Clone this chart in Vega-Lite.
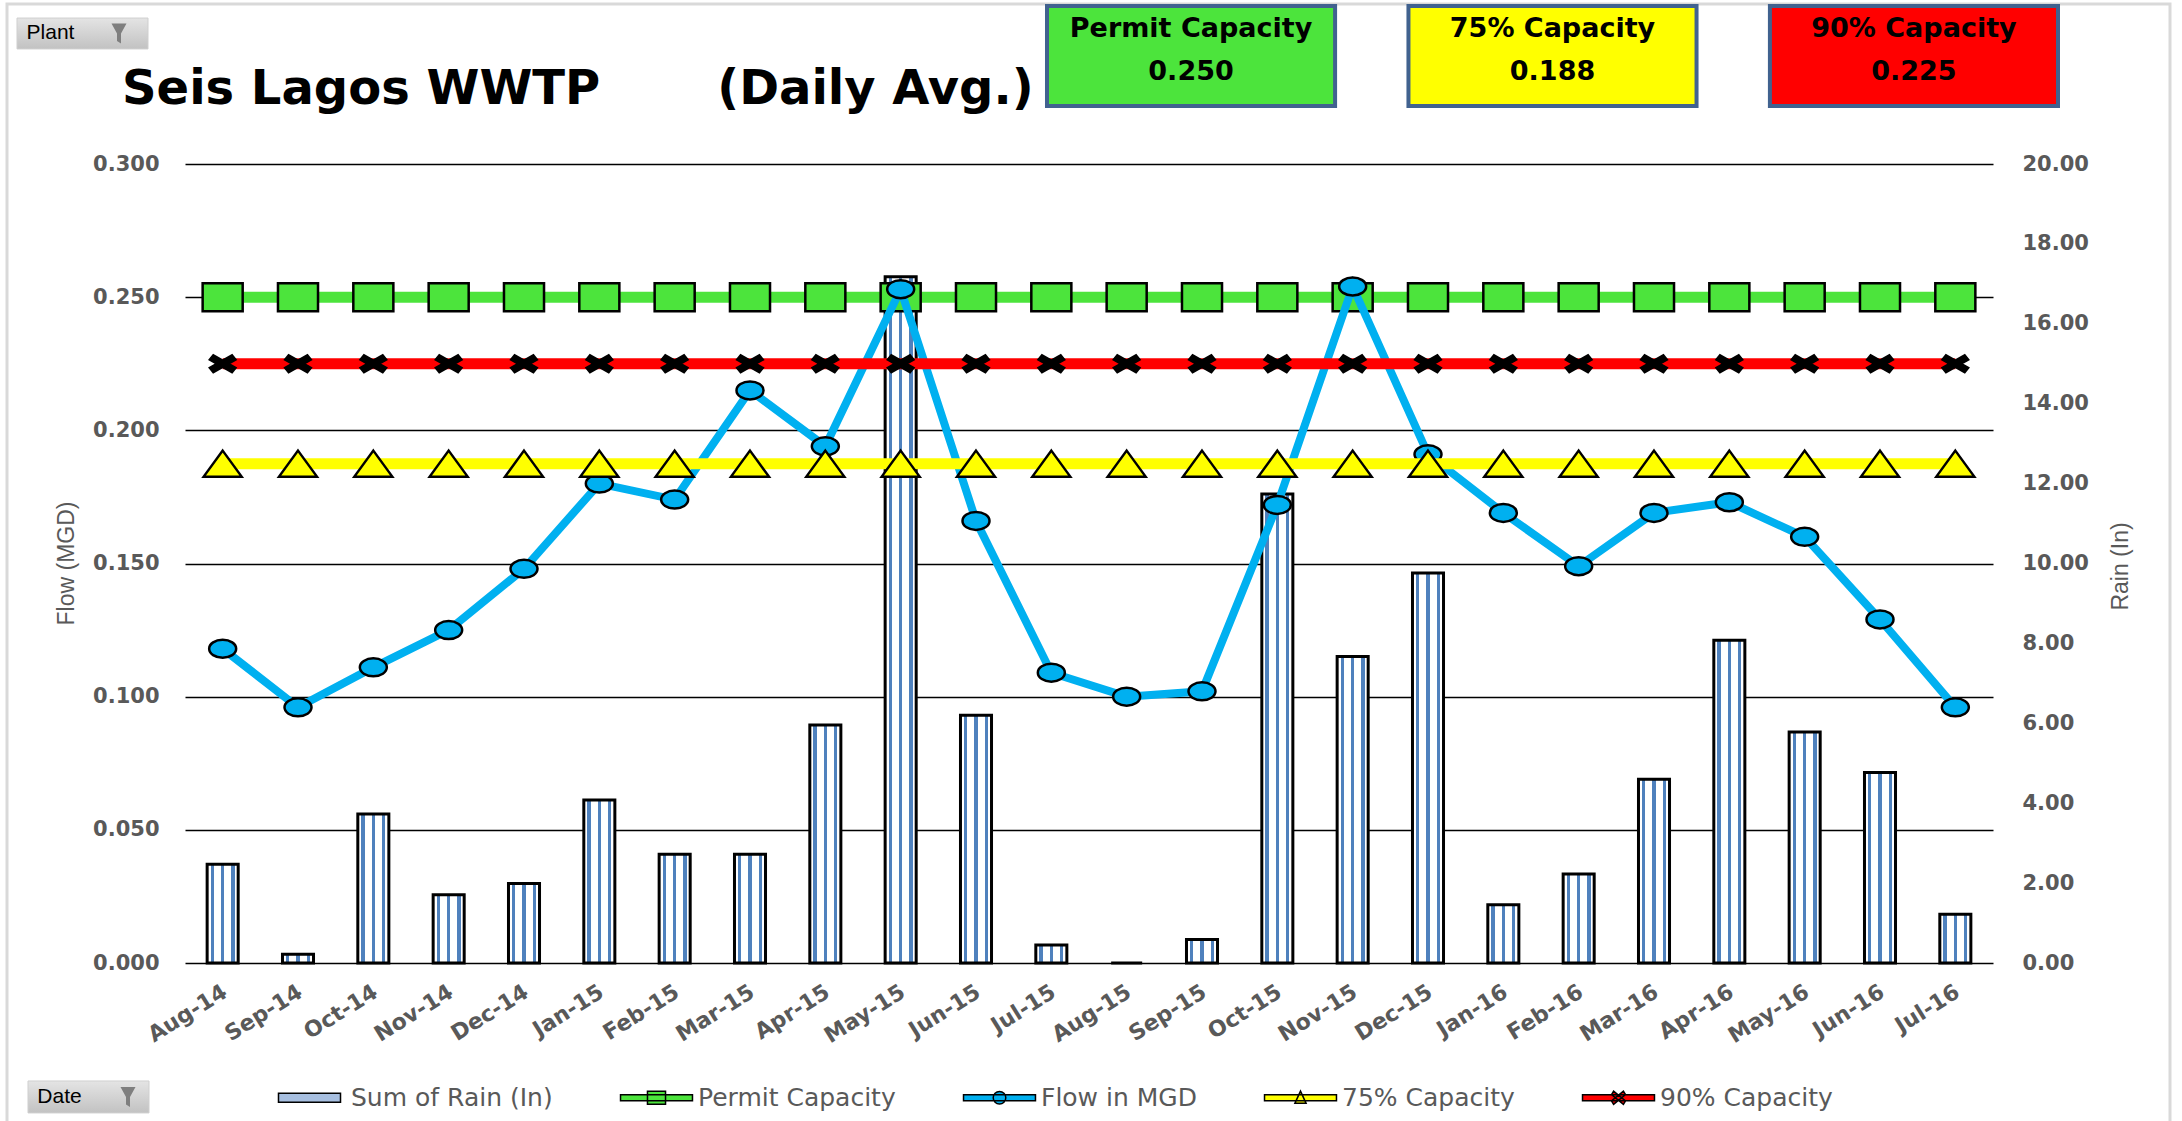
{
  "$schema": "https://vega.github.io/schema/vega-lite/v6.json",
  "width": 1808,
  "height": 799,
  "autosize": "none",
  "padding": {"left": 185, "top": 164, "right": 189, "bottom": 158},
  "background": "white",
  "config": {"view": {"stroke": null}},
  "title": {
    "text": "Seis Lagos WWTP\u00a0\u00a0\u00a0\u00a0\u00a0\u00a0\u00a0(Daily Avg.)",
    "anchor": "start",
    "frame": "group",
    "orient": "top",
    "font": "DejaVu Sans",
    "fontSize": 48,
    "fontWeight": "bold",
    "color": "#000000",
    "baseline": "alphabetic",
    "offset": 0,
    "dx": -63,
    "dy": 150
  },
  "datasets": {
    "d": [
      {"m": "Aug-14", "rain": 2.47, "Flow in MGD": 0.118, "Permit Capacity": 0.25, "75% Capacity": 0.1875, "90% Capacity": 0.225},
      {"m": "Sep-14", "rain": 0.22, "Flow in MGD": 0.096, "Permit Capacity": 0.25, "75% Capacity": 0.1875, "90% Capacity": 0.225},
      {"m": "Oct-14", "rain": 3.73, "Flow in MGD": 0.111, "Permit Capacity": 0.25, "75% Capacity": 0.1875, "90% Capacity": 0.225},
      {"m": "Nov-14", "rain": 1.71, "Flow in MGD": 0.125, "Permit Capacity": 0.25, "75% Capacity": 0.1875, "90% Capacity": 0.225},
      {"m": "Dec-14", "rain": 1.99, "Flow in MGD": 0.148, "Permit Capacity": 0.25, "75% Capacity": 0.1875, "90% Capacity": 0.225},
      {"m": "Jan-15", "rain": 4.08, "Flow in MGD": 0.180, "Permit Capacity": 0.25, "75% Capacity": 0.1875, "90% Capacity": 0.225},
      {"m": "Feb-15", "rain": 2.72, "Flow in MGD": 0.174, "Permit Capacity": 0.25, "75% Capacity": 0.1875, "90% Capacity": 0.225},
      {"m": "Mar-15", "rain": 2.72, "Flow in MGD": 0.215, "Permit Capacity": 0.25, "75% Capacity": 0.1875, "90% Capacity": 0.225},
      {"m": "Apr-15", "rain": 5.96, "Flow in MGD": 0.194, "Permit Capacity": 0.25, "75% Capacity": 0.1875, "90% Capacity": 0.225},
      {"m": "May-15", "rain": 17.18, "Flow in MGD": 0.253, "Permit Capacity": 0.25, "75% Capacity": 0.1875, "90% Capacity": 0.225},
      {"m": "Jun-15", "rain": 6.20, "Flow in MGD": 0.166, "Permit Capacity": 0.25, "75% Capacity": 0.1875, "90% Capacity": 0.225},
      {"m": "Jul-15", "rain": 0.45, "Flow in MGD": 0.109, "Permit Capacity": 0.25, "75% Capacity": 0.1875, "90% Capacity": 0.225},
      {"m": "Aug-15", "rain": 0, "Flow in MGD": 0.100, "Permit Capacity": 0.25, "75% Capacity": 0.1875, "90% Capacity": 0.225},
      {"m": "Sep-15", "rain": 0.59, "Flow in MGD": 0.102, "Permit Capacity": 0.25, "75% Capacity": 0.1875, "90% Capacity": 0.225},
      {"m": "Oct-15", "rain": 11.74, "Flow in MGD": 0.172, "Permit Capacity": 0.25, "75% Capacity": 0.1875, "90% Capacity": 0.225},
      {"m": "Nov-15", "rain": 7.67, "Flow in MGD": 0.254, "Permit Capacity": 0.25, "75% Capacity": 0.1875, "90% Capacity": 0.225},
      {"m": "Dec-15", "rain": 9.76, "Flow in MGD": 0.191, "Permit Capacity": 0.25, "75% Capacity": 0.1875, "90% Capacity": 0.225},
      {"m": "Jan-16", "rain": 1.46, "Flow in MGD": 0.169, "Permit Capacity": 0.25, "75% Capacity": 0.1875, "90% Capacity": 0.225},
      {"m": "Feb-16", "rain": 2.23, "Flow in MGD": 0.149, "Permit Capacity": 0.25, "75% Capacity": 0.1875, "90% Capacity": 0.225},
      {"m": "Mar-16", "rain": 4.60, "Flow in MGD": 0.169, "Permit Capacity": 0.25, "75% Capacity": 0.1875, "90% Capacity": 0.225},
      {"m": "Apr-16", "rain": 8.08, "Flow in MGD": 0.173, "Permit Capacity": 0.25, "75% Capacity": 0.1875, "90% Capacity": 0.225},
      {"m": "May-16", "rain": 5.78, "Flow in MGD": 0.160, "Permit Capacity": 0.25, "75% Capacity": 0.1875, "90% Capacity": 0.225},
      {"m": "Jun-16", "rain": 4.77, "Flow in MGD": 0.129, "Permit Capacity": 0.25, "75% Capacity": 0.1875, "90% Capacity": 0.225},
      {"m": "Jul-16", "rain": 1.22, "Flow in MGD": 0.096, "Permit Capacity": 0.25, "75% Capacity": 0.1875, "90% Capacity": 0.225}
    ],
    "boxes": [
      {"box": "Permit Capacity", "num": "0.250"},
      {"box": "75% Capacity", "num": "0.188"},
      {"box": "90% Capacity", "num": "0.225"}
    ]
  },
  "layer": [
    {
      "data": {"values": [{"f": "chart"}]},
      "mark": {"type": "bar", "fill": "transparent", "stroke": "#D9D9D9", "strokeWidth": 3},
      "encoding": {
        "x": {"field": "f", "type": "nominal", "scale": {"type": "band", "domain": ["chart"], "range": [-178, 1985], "paddingInner": 0, "paddingOuter": 0}, "axis": null},
        "y": {"datum": 0.36008, "type": "quantitative", "scale": {"domain": [0, 0.3]}, "axis": null},
        "y2": {"datum": -0.0608}
      }
    },
    {
      "data": {"name": "d"},
      "mark": {
        "type": "bar",
        "stroke": "#000000",
        "strokeWidth": 3,
        "fill": {
          "gradient": "linear",
          "x1": 0, "y1": 0, "x2": 1, "y2": 0,
          "stops": [
            {"offset": 0, "color": "#ffffff"},
            {"offset": 0.115, "color": "#ffffff"},
            {"offset": 0.115, "color": "#4F81BD"},
            {"offset": 0.225, "color": "#4F81BD"},
            {"offset": 0.225, "color": "#ffffff"},
            {"offset": 0.445, "color": "#ffffff"},
            {"offset": 0.445, "color": "#4F81BD"},
            {"offset": 0.555, "color": "#4F81BD"},
            {"offset": 0.555, "color": "#ffffff"},
            {"offset": 0.775, "color": "#ffffff"},
            {"offset": 0.775, "color": "#4F81BD"},
            {"offset": 0.885, "color": "#4F81BD"},
            {"offset": 0.885, "color": "#ffffff"},
            {"offset": 1, "color": "#ffffff"}
          ]
        }
      },
      "encoding": {
        "x": {
          "field": "m",
          "type": "ordinal",
          "scale": {
            "type": "band",
            "domain": ["Aug-14","Sep-14","Oct-14","Nov-14","Dec-14","Jan-15","Feb-15","Mar-15","Apr-15","May-15","Jun-15","Jul-15","Aug-15","Sep-15","Oct-15","Nov-15","Dec-15","Jan-16","Feb-16","Mar-16","Apr-16","May-16","Jun-16","Jul-16"],
            "paddingInner": 0.588,
            "paddingOuter": 0.294
          },
          "axis": {
            "orient": "bottom",
            "title": null,
            "domain": false,
            "ticks": false,
            "grid": false,
            "labelAngle": -32,
            "labelAlign": "right",
            "labelBaseline": "top",
            "labelPadding": 18,
            "labelOffset": -3,
            "labelFont": "DejaVu Sans",
            "labelFontWeight": "bold",
            "labelFontSize": 22,
            "labelColor": "#595959"
          }
        },
        "y": {
          "field": "rain",
          "type": "quantitative",
          "scale": {"domain": [0, 20]},
          "axis": {
            "orient": "right",
            "values": [0, 2, 4, 6, 8, 10, 12, 14, 16, 18, 20],
            "format": ".2f",
            "grid": false,
            "domain": false,
            "ticks": false,
            "labelPadding": 29,
            "labelFont": "DejaVu Sans",
            "labelFontWeight": "bold",
            "labelFontSize": 21,
            "labelColor": "#595959",
            "title": "Rain (In)",
            "titleFont": "Liberation Sans",
            "titleFontSize": 23,
            "titleFontWeight": "normal",
            "titleColor": "#595959",
            "titleAngle": 270,
            "titleAlign": "center",
            "titleBaseline": "middle",
            "titleX": 127,
            "titleY": 402
          }
        }
      }
    },
    {
      "data": {"name": "d"},
      "transform": [
        {"fold": ["Permit Capacity", "Flow in MGD", "75% Capacity", "90% Capacity"], "as": ["series", "val"]}
      ],
      "encoding": {
        "x": {
          "field": "m",
          "type": "ordinal",
          "scale": {
            "type": "point",
            "domain": ["Aug-14","Sep-14","Oct-14","Nov-14","Dec-14","Jan-15","Feb-15","Mar-15","Apr-15","May-15","Jun-15","Jul-15","Aug-15","Sep-15","Oct-15","Nov-15","Dec-15","Jan-16","Feb-16","Mar-16","Apr-16","May-16","Jun-16","Jul-16"],
            "padding": 0.5
          },
          "axis": null
        },
        "y": {
          "field": "val",
          "type": "quantitative",
          "scale": {"domain": [0, 0.3]},
          "axis": {
            "orient": "left",
            "values": [0, 0.05, 0.1, 0.15, 0.2, 0.25, 0.3],
            "format": ".3f",
            "grid": true,
            "gridColor": "#000000",
            "gridWidth": 1.5,
            "gridOpacity": 1,
            "domain": false,
            "ticks": false,
            "labelPadding": 26,
            "labelFont": "DejaVu Sans",
            "labelFontWeight": "bold",
            "labelFontSize": 21,
            "labelColor": "#595959",
            "title": "Flow (MGD)",
            "titleFont": "Liberation Sans",
            "titleFontSize": 23,
            "titleFontWeight": "normal",
            "titleColor": "#595959",
            "titleAngle": 270,
            "titleAlign": "center",
            "titleBaseline": "middle",
            "titleX": -119,
            "titleY": 399
          }
        }
      },
      "layer": [
        {
          "transform": [{"filter": {"field": "series", "equal": "Permit Capacity"}}],
          "mark": {"type": "line", "strokeWidth": 11, "stroke": "#4CE43C"}
        },
        {
          "transform": [{"filter": {"field": "series", "equal": "Permit Capacity"}}],
          "mark": {"type": "point", "shape": "M-1.43,-1L1.43,-1L1.43,1L-1.43,1Z", "size": 784, "filled": true, "fill": "#4CE43C", "stroke": "#000000", "strokeWidth": 2.5, "opacity": 1}
        },
        {
          "transform": [{"filter": {"field": "series", "equal": "Flow in MGD"}}],
          "mark": {"type": "line", "strokeWidth": 8, "stroke": "#00B0F0"}
        },
        {
          "transform": [{"filter": {"field": "series", "equal": "Flow in MGD"}}],
          "mark": {"type": "point", "shape": "M-1.5,0A1.5,1,0,1,1,1.5,0A1.5,1,0,1,1,-1.5,0Z", "size": 324, "filled": true, "fill": "#00B0F0", "stroke": "#000000", "strokeWidth": 2.5, "opacity": 1}
        },
        {
          "transform": [{"filter": {"field": "series", "equal": "75% Capacity"}}],
          "mark": {"type": "line", "strokeWidth": 11, "stroke": "#FFFF00"}
        },
        {
          "transform": [{"filter": {"field": "series", "equal": "75% Capacity"}}],
          "mark": {"type": "point", "shape": "M0,-1L1.46,1L-1.46,1Z", "size": 676, "filled": true, "fill": "#FFFF00", "stroke": "#000000", "strokeWidth": 2.5, "opacity": 1}
        },
        {
          "transform": [{"filter": {"field": "series", "equal": "90% Capacity"}}],
          "mark": {"type": "line", "strokeWidth": 11, "stroke": "#FF0000"}
        },
        {
          "transform": [{"filter": {"field": "series", "equal": "90% Capacity"}}],
          "mark": {"type": "point", "shape": "M-1.5,-0.45L-1.05,-1L1.5,0.45L1.05,1ZM-1.05,1L-1.5,0.45L1.05,-1L1.5,-0.45Z", "size": 324, "filled": true, "fill": "#000000", "stroke": "#000000", "strokeWidth": 1.5, "opacity": 1}
        },
        {
          "transform": [{"filter": {"field": "series", "equal": "Flow in MGD"}}],
          "mark": {"type": "point", "filled": true, "size": 0, "stroke": "#000000", "strokeWidth": 1.5, "opacity": 1},
          "encoding": {
            "shape": {
              "field": "series",
              "type": "nominal",
              "scale": {
                "domain": ["Sum of Rain (In)", "Permit Capacity", "Flow in MGD", "75% Capacity", "90% Capacity"],
                "range": [
                  "M-4.43,-0.64L4.43,-0.64L4.43,0.64L-4.43,0.64Z",
                  "M-5.14,-0.43L5.14,-0.43L5.14,0.43L-5.14,0.43ZM-1.29,-0.93L1.29,-0.93L1.29,0.93L-1.29,0.93Z",
                  "M-5.14,-0.43L5.14,-0.43L5.14,0.43L-5.14,0.43ZM-0.9,0A0.9,0.9,0,1,1,0.9,0A0.9,0.9,0,1,1,-0.9,0Z",
                  "M-5.14,-0.43L5.14,-0.43L5.14,0.43L-5.14,0.43ZM0,-0.95L0.8,0.8L-0.8,0.8Z",
                  "M-5.14,-0.43L5.14,-0.43L5.14,0.43L-5.14,0.43ZM-1,-0.45L-0.7,-0.95L1,0.45L0.7,0.95ZM-0.7,0.95L-1,0.45L0.7,-0.95L1,-0.45Z"
                ]
              }
            },
            "fill": {
              "field": "series",
              "type": "nominal",
              "scale": {
                "domain": ["Sum of Rain (In)", "Permit Capacity", "Flow in MGD", "75% Capacity", "90% Capacity"],
                "range": ["#A7BFE0", "#4CE43C", "#00B0F0", "#FFFF00", "#FF0000"]
              },
              "legend": {
                "orient": "none",
                "legendX": 89,
                "legendY": 921,
                "direction": "horizontal",
                "title": null,
                "padding": 0,
                "symbolSize": 196,
                "symbolOffset": 23,
                "labelOffset": 29,
                "columnPadding": 64,
                "symbolStrokeColor": "#000000",
                "symbolStrokeWidth": 1.5,
                "labelFont": "DejaVu Sans",
                "labelFontSize": 25,
                "labelColor": "#595959",
                "labelLimit": 500
              }
            }
          }
        }
      ]
    },
    {
      "data": {"name": "boxes"},
      "encoding": {
        "x": {
          "field": "box",
          "type": "nominal",
          "scale": {
            "type": "band",
            "domain": ["Permit Capacity", "75% Capacity", "90% Capacity"],
            "range": [862, 1873],
            "paddingInner": 0.203,
            "paddingOuter": 0
          },
          "axis": null
        }
      },
      "layer": [
        {
          "mark": {"type": "bar", "stroke": "#41628F", "strokeWidth": 4},
          "encoding": {
            "y": {"datum": 0.3593, "type": "quantitative", "scale": {"domain": [0, 0.3]}, "axis": null},
            "y2": {"datum": 0.3218},
            "color": {
              "field": "box",
              "type": "nominal",
              "scale": {"domain": ["Permit Capacity", "75% Capacity", "90% Capacity"], "range": ["#4CE43C", "#FFFF00", "#FF0000"]},
              "legend": null
            }
          }
        },
        {
          "mark": {"type": "text", "font": "DejaVu Sans", "fontWeight": "bold", "fontSize": 27, "baseline": "middle", "align": "center", "color": "#000000"},
          "encoding": {
            "text": {"field": "box"},
            "y": {"datum": 0.3507, "type": "quantitative"}
          }
        },
        {
          "mark": {"type": "text", "font": "DejaVu Sans", "fontWeight": "bold", "fontSize": 27, "baseline": "middle", "align": "center", "color": "#000000"},
          "encoding": {
            "text": {"field": "num"},
            "y": {"datum": 0.3347, "type": "quantitative"}
          }
        }
      ]
    },
    {
      "data": {"values": [{"btn": "Plant"}]},
      "encoding": {
        "x": {"field": "btn", "type": "nominal", "scale": {"type": "band", "domain": ["Plant"], "range": [-168, -37], "paddingInner": 0, "paddingOuter": 0}, "axis": null}
      },
      "layer": [
        {
          "mark": {"type": "bar", "stroke": "#CFCFCF", "strokeWidth": 1, "fill": {"gradient": "linear", "x1": 0, "y1": 0, "x2": 0, "y2": 1, "stops": [{"offset": 0, "color": "#E4E4E4"}, {"offset": 1, "color": "#C2C2C2"}]}},
          "encoding": {
            "y": {"datum": 0.3548, "type": "quantitative", "scale": {"domain": [0, 0.3]}, "axis": null},
            "y2": {"datum": 0.3432}
          }
        },
        {
          "mark": {"type": "text", "font": "Liberation Sans", "fontSize": 21, "color": "#000000", "align": "center", "baseline": "middle", "dx": -32},
          "encoding": {"text": {"field": "btn"}, "y": {"datum": 0.349, "type": "quantitative"}}
        },
        {
          "mark": {"type": "point", "shape": "M-0.75,-1L0.75,-1L0.2,0L0.2,1L-0.2,0.75L-0.2,0Z", "size": 400, "filled": true, "fill": "#7F7F7F", "strokeWidth": 0, "opacity": 1},
          "encoding": {"y": {"datum": 0.349, "type": "quantitative"}, "xOffset": {"value": 102}}
        }
      ]
    },
    {
      "data": {"values": [{"btn": "Date"}]},
      "encoding": {
        "x": {"field": "btn", "type": "nominal", "scale": {"type": "band", "domain": ["Date"], "range": [-157, -36], "paddingInner": 0, "paddingOuter": 0}, "axis": null}
      },
      "layer": [
        {
          "mark": {"type": "bar", "stroke": "#CFCFCF", "strokeWidth": 1, "fill": {"gradient": "linear", "x1": 0, "y1": 0, "x2": 0, "y2": 1, "stops": [{"offset": 0, "color": "#E4E4E4"}, {"offset": 1, "color": "#C2C2C2"}]}},
          "encoding": {
            "y": {"datum": -0.0443, "type": "quantitative", "scale": {"domain": [0, 0.3]}, "axis": null},
            "y2": {"datum": -0.0563}
          }
        },
        {
          "mark": {"type": "text", "font": "Liberation Sans", "fontSize": 21, "color": "#000000", "align": "center", "baseline": "middle", "dx": -29},
          "encoding": {"text": {"field": "btn"}, "y": {"datum": -0.0503, "type": "quantitative"}}
        },
        {
          "mark": {"type": "point", "shape": "M-0.75,-1L0.75,-1L0.2,0L0.2,1L-0.2,0.75L-0.2,0Z", "size": 400, "filled": true, "fill": "#7F7F7F", "strokeWidth": 0, "opacity": 1},
          "encoding": {"y": {"datum": -0.0503, "type": "quantitative"}, "xOffset": {"value": 100}}
        }
      ]
    }
  ],
  "resolve": {"scale": {"x": "independent", "y": "independent"}}
}
